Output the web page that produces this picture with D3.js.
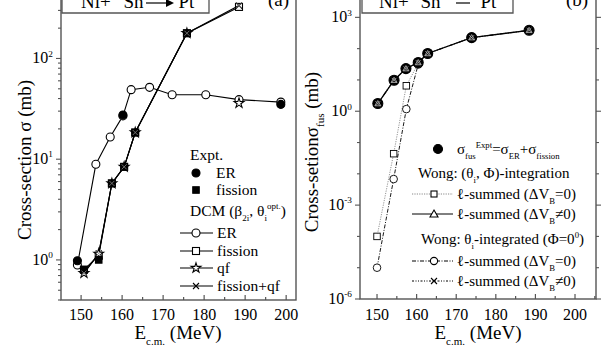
<!DOCTYPE html>
<html>
<head>
<meta charset="utf-8">
<script src="https://cdn.jsdelivr.net/npm/d3@7"></script>
<style>
  body { margin: 0; background: #fff; }
  svg, svg text { font-family: "Liberation Serif", "Times New Roman", Times, "DejaVu Serif", serif; }
</style>
</head>
<body>
<svg id="chart" width="606" height="352" font-family="Liberation Serif, Times New Roman, serif"></svg>
<script>
// ---- panel (a): DCM vs experiment ----
const erE = [149.1, 153.6, 157.1, 160.2, 162.2, 166.7, 172.2, 180.4, 188.5, 198.7];
const erDcm = [0.89, 8.9, 16.6, 26.9, 49, 51.7, 43.7, 43.7, 39, 36.9];
const erExptE = [149.1, 160.2, 198.7];
const erExpt = [0.98, 27.5, 35];
const fisE = [150.7, 154.3, 157.5, 160.5, 163.2, 175.8, 188.5];
const fisExpt = [0.8, 1.0, 5.75, 8.4, 18.4, 178];
const fisDcm = [0.8, 1.1, 5.75, 8.4, 18.4, 178, 325];
const qfDcm = [0.74, 1.15, 5.75, 8.4, 18.4, 178, 36];
const fisQfDcm = [0.74, 1.16, 5.75, 8.4, 18.4, 178, 335];

// ---- panel (b): fusion cross-section, Wong ----
const fusE = [150.2, 154.3, 157.3, 160.4, 162.8, 173.9, 188.4];
const fusExpt = [1.76, 9.8, 23, 36, 70, 225, 385];
const wongPhiDvb = [1.76, 9.8, 23, 36, 70, 225, 385];
const wongThetaDvb = [1.76, 9.8, 23, 36, 70, 225, 385];
const wongE = [150, 154.2, 157.4, 160.4];
const wongPhi0 = [1e-4, 0.044, 6.5, 34];
const wongTheta0 = [1e-5, 0.0068, 1.17, 31];

const xTicks = [150, 160, 170, 180, 190, 200];

const svg = d3.select('#chart');
const axisColor = '#555';

function rich(g, x, y, parts, size, anchor) {
    const t = g.append('text')
        .attr('x', x).attr('y', y)
        .attr('font-size', size)
        .attr('text-anchor', anchor || 'start')
        .attr('fill', '#000');
    let shift = 0;
    parts.forEach(p => {
        const s = typeof p === 'string' ? p : p[0];
        const mode = typeof p === 'string' ? null : p[1];
        const target = mode === 'sub' ? size * 0.3 : mode === 'sup' ? -size * 0.42 : 0;
        t.append('tspan')
            .attr('dy', target - shift)
            .attr('font-size', mode ? size * 0.58 : size)
            .text(s);
        shift = target;
    });
    return t;
}

function marker(g, type, cx, cy, opt) {
    opt = opt || {};
    const sw = opt.sw || 1.1;
    if (type === 'circle') {
        g.append('circle').attr('cx', cx).attr('cy', cy).attr('r', opt.r || 4)
            .attr('fill', opt.fill || '#fff').attr('stroke', '#000').attr('stroke-width', sw);
    } else if (type === 'square') {
        const s = opt.s || 7;
        g.append('rect').attr('x', cx - s / 2).attr('y', cy - s / 2).attr('width', s).attr('height', s)
            .attr('fill', opt.fill || '#fff').attr('stroke', '#000').attr('stroke-width', sw);
    } else if (type === 'star') {
        g.append('path').attr('transform', `translate(${cx},${cy})`)
            .attr('d', d3.symbol(d3.symbolStar, opt.size || 34)())
            .attr('fill', opt.fill || '#fff').attr('stroke', '#000').attr('stroke-width', sw);
    } else if (type === 'cross') {
        const s = opt.s || 3.5;
        g.append('path')
            .attr('d', `M${cx - s},${cy - s}L${cx + s},${cy + s}M${cx - s},${cy + s}L${cx + s},${cy - s}`)
            .attr('stroke', opt.stroke || '#000').attr('stroke-width', sw).attr('fill', 'none');
    } else if (type === 'triangle') {
        const s = opt.s || 4.5;
        g.append('path')
            .attr('d', `M${cx},${cy - s}L${cx + s},${cy + s * 0.75}L${cx - s},${cy + s * 0.75}Z`)
            .attr('fill', opt.fill || '#fff').attr('stroke', opt.stroke || '#000').attr('stroke-width', sw);
    }
}

function frame(x, y, opts) {
    const g = svg.append('g');
    const [x0, x1] = x.range();
    const [yb, yt] = y.range();
    // bottom ticks (inward)
    d3.range(145, 206, 5).forEach(v => {
        if (v < x.domain()[0] || v > x.domain()[1]) return;
        const major = v % 10 === 0;
        g.append('line').attr('x1', x(v)).attr('x2', x(v))
            .attr('y1', yb).attr('y2', yb - (major ? 5 : 3))
            .attr('stroke', axisColor).attr('stroke-width', 1.2);
    });
    xTicks.forEach(v => {
        g.append('text').attr('x', x(v)).attr('y', 320).attr('text-anchor', 'middle')
            .attr('font-size', 16).text(v);
    });
    // log ticks
    const [d0, d1] = y.domain();
    for (let e = Math.floor(Math.log10(d0)); e <= Math.ceil(Math.log10(d1)); e++) {
        const steps = opts.minorPerDecade ? d3.range(1, 10) : [1];
        steps.forEach(m => {
            const v = m * Math.pow(10, e);
            if (v < d0 || v > d1) return;
            const major = m === 1 && opts.majorExp.includes(e);
            const len = major ? 5 : 3;
            g.append('line').attr('x1', x0 - len).attr('x2', x0)
                .attr('y1', y(v)).attr('y2', y(v))
                .attr('stroke', axisColor).attr('stroke-width', 1.1);
            if (opts.rightTicks) {
                g.append('line').attr('x1', x1).attr('x2', x1 + len)
                    .attr('y1', y(v)).attr('y2', y(v))
                    .attr('stroke', axisColor).attr('stroke-width', 1.1);
            }
            if (major) {
                rich(g, x0 - 8, y(v) + 5, ['10', [String(e), 'sup']], 16, 'end');
            }
        });
    }
    g.append('rect').attr('x', x0).attr('y', yt).attr('width', x1 - x0).attr('height', yb - yt)
        .attr('fill', 'none').attr('stroke', axisColor).attr('stroke-width', 1.4);
    return g;
}

function series(g, x, y, xs, ys, style) {
    const pts = xs.map((v, i) => [v, ys[i]]);
    if (style.line !== false) {
        const line = d3.line()
            .defined((d, i) => style.lineUpTo === undefined || i < style.lineUpTo)
            .x(d => x(d[0])).y(d => y(d[1]));
        g.append('path').datum(pts).attr('d', line)
            .attr('fill', 'none')
            .attr('stroke', style.color || '#000')
            .attr('stroke-width', style.width || 1.1)
            .attr('stroke-dasharray', style.dash || null);
    }
    pts.forEach(p => marker(g, style.marker, x(p[0]), y(p[1]), style.opt));
}

// ================= panel (a) =================
const xA = d3.scaleLinear().domain([145.1, 202.4]).range([61, 296]);
const yA = d3.scaleLog().domain([0.40, 457]).range([300, -8]);
const gA = frame(xA, yA, { minorPerDecade: true, majorExp: [0, 1, 2] });

series(gA, xA, yA, erE, erDcm, { marker: 'circle', opt: { r: 4 } });
series(gA, xA, yA, fisE, fisDcm, { marker: 'square' });
series(gA, xA, yA, fisE, fisQfDcm, { marker: 'cross', opt: { s: 3 } });
series(gA, xA, yA, fisE, qfDcm, { marker: 'star', lineUpTo: 6, opt: { size: 30 } });
series(gA, xA, yA, erExptE, erExpt, { marker: 'circle', line: false, opt: { r: 4, fill: '#000' } });
series(gA, xA, yA, fisE.slice(0, fisExpt.length), fisExpt, { marker: 'square', line: false, opt: { fill: '#000', s: 6.5 } });
// crosses drawn again on top of filled squares
fisE.forEach((v, i) => marker(gA, 'cross', xA(v), yA(fisQfDcm[i]), { s: 2.5, stroke: '#888', sw: 0.8 }));

// reaction box (a)
gA.append('path').attr('d', 'M62,-8V13H209V-8').attr('fill', 'none').attr('stroke', axisColor).attr('stroke-width', 1.3);
rich(gA, 70, 8, [['64', 'sup'], 'Ni+'], 19);
rich(gA, 107, 8, [['124', 'sup'], 'Sn'], 19);
gA.append('line').attr('x1', 146).attr('x2', 168).attr('y1', 3).attr('y2', 3).attr('stroke', '#000').attr('stroke-width', 1.2);
gA.append('path').attr('d', 'M166,-1L174,3L166,7Z').attr('fill', '#000');
rich(gA, 162, 8, [['188', 'sup'], 'Pt'], 19);
gA.append('text').attr('x', 268).attr('y', 6).attr('font-size', 19).text('(a)');

// legend (a)
const lA = svg.append('g');
lA.append('text').attr('x', 190).attr('y', 160).attr('font-size', 15.5).text('Expt.');
marker(lA, 'circle', 196, 173, { r: 4, fill: '#000' });
lA.append('text').attr('x', 216).attr('y', 178).attr('font-size', 15.5).text('ER');
marker(lA, 'square', 196, 190, { fill: '#000', s: 6.5 });
lA.append('text').attr('x', 216).attr('y', 195).attr('font-size', 15.5).text('fission');
rich(lA, 190, 216, ['DCM (β', ['2i', 'sub'], ', θ', ['i', 'sub'], ['opt.', 'sup'], ')'], 15.5);
const legA = [
    ['ER', 'circle', 233],
    ['fission', 'square', 251],
    ['qf', 'star', 268],
    ['fission+qf', 'cross', 286]
];
legA.forEach(([label, m, yy]) => {
    lA.append('line').attr('x1', 180).attr('x2', 213).attr('y1', yy).attr('y2', yy)
        .attr('stroke', '#000').attr('stroke-width', 1.1);
    marker(lA, m, 196, yy, m === 'star' ? { size: 30 } : m === 'cross' ? { s: 3 } : {});
    lA.append('text').attr('x', 217).attr('y', yy + 5).attr('font-size', 15.5).text(label);
});

// axis titles (a)
rich(svg, 178, 339, ['E', ['c.m.', 'sub'], ' (MeV)'], 19, 'middle');
rich(svg.append('g').attr('transform', 'translate(31,160) rotate(-90)'), 0, 0,
    ['Cross-section σ (mb)'], 19, 'middle');

// ================= panel (b) =================
const xB = d3.scaleLinear().domain([145.7, 205.3]).range([360, 596]);
const yB = d3.scaleLog().domain([1e-6, Math.pow(10, 3.81)]).range([299, -8]);
const gB = frame(xB, yB, { minorPerDecade: false, majorExp: [-6, -3, 0, 3], rightTicks: true });

series(gB, xB, yB, wongE, wongPhi0, { marker: 'square', color: '#888', width: 0.9, dash: '1.2,1.2', opt: { s: 6.5, sw: 0.9 } });
series(gB, xB, yB, wongE, wongTheta0, { marker: 'circle', dash: '4,1.5,1,1.5', width: 0.9, opt: { r: 3.8, sw: 0.9 } });
series(gB, xB, yB, fusE, wongThetaDvb, { marker: 'cross', dash: '4,1.5,1,1.5,1,1.5', opt: { s: 3 } });
series(gB, xB, yB, fusE, wongPhiDvb, { marker: 'triangle', width: 1.3, opt: { s: 3.6 } });
series(gB, xB, yB, fusE, fusExpt, { marker: 'circle', line: false, opt: { r: 5, fill: '#000' } });
fusE.forEach((v, i) => {
    marker(gB, 'triangle', xB(v), yB(wongPhiDvb[i]), { s: 3, fill: 'none', stroke: '#bbb', sw: 0.8 });
    marker(gB, 'cross', xB(v), yB(wongThetaDvb[i]), { s: 2.3, stroke: '#bbb', sw: 0.8 });
});

// reaction box (b)
gB.append('path').attr('d', 'M362,-8V13H513V-8').attr('fill', 'none').attr('stroke', axisColor).attr('stroke-width', 1.3);
rich(gB, 368, 8, [['64', 'sup'], 'Ni+'], 19);
rich(gB, 404, 8, [['124', 'sup'], 'Sn'], 19);
gB.append('line').attr('x1', 456).attr('x2', 470).attr('y1', 3).attr('y2', 3).attr('stroke', '#000').attr('stroke-width', 1.2);
rich(gB, 464, 8, [['188', 'sup'], 'Pt'], 19);
gB.append('text').attr('x', 566).attr('y', 6).attr('font-size', 19).text('(b)');

// legend (b)
const lB = svg.append('g');
marker(lB, 'circle', 438, 149, { r: 4.5, fill: '#000' });
rich(lB, 457, 154, ['σ', ['fus', 'sub'], ['Expt', 'sup'], '=σ', ['ER', 'sub'], '+σ', ['fission', 'sub']], 15);
rich(lB, 418, 178, ['Wong: (θ', ['i', 'sub'], ', Φ)-integration'], 15);
rich(lB, 421, 244, ['Wong: θ', ['i', 'sub'], '-integrated (Φ=0', ['0', 'sup'], ')'], 15);
const legB = [
    [194, 'square', '=', { color: '#888', dash: '1.2,1.2' }],
    [214, 'triangle', '≠', { color: '#000' }],
    [261, 'circle', '=', { color: '#000', dash: '4,1.5,1,1.5' }],
    [281, 'cross', '≠', { color: '#000', dash: '2,1.5,1,1.5,1,1.5' }]
];
legB.forEach(([yy, m, op, st]) => {
    lB.append('line').attr('x1', 412).attr('x2', 453).attr('y1', yy).attr('y2', yy)
        .attr('stroke', st.color).attr('stroke-width', 1).attr('stroke-dasharray', st.dash || null);
    marker(lB, m, 434, yy, m === 'square' ? { s: 6 } : m === 'circle' ? { r: 3.6 } : m === 'cross' ? { s: 3 } : { s: 4 });
    rich(lB, 457, yy + 5, ['ℓ-summed (ΔV', ['B', 'sub'], op + '0)'], 15);
});

// axis titles (b)
rich(svg, 478, 339, ['E', ['c.m.', 'sub'], ' (MeV)'], 19, 'middle');
rich(svg.append('g').attr('transform', 'translate(318,152) rotate(-90)'), 0, 0,
    ['Cross-setionσ', ['fus', 'sub'], ' (mb)'], 19, 'middle');
</script>
</body>
</html>
